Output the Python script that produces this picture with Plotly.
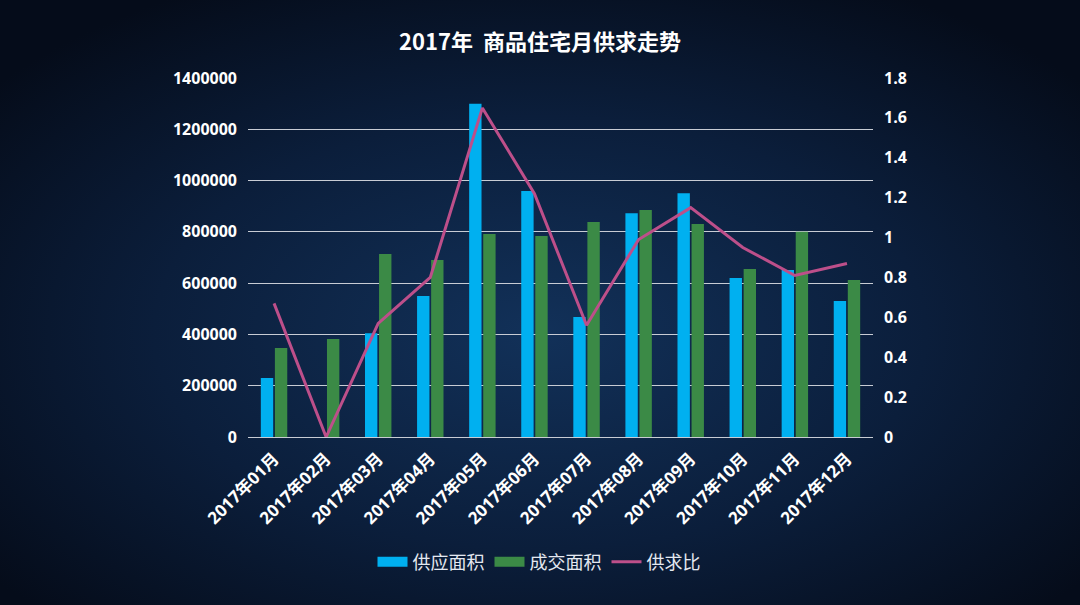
import plotly.graph_objects as go
import urllib.parse

months = ["2017年01月", "2017年02月", "2017年03月", "2017年04月", "2017年05月", "2017年06月",
          "2017年07月", "2017年08月", "2017年09月", "2017年10月", "2017年11月", "2017年12月"]
supply = [230000, 0, 405000, 550000, 1300000, 959000, 468000, 873000, 951000, 620000, 651000, 530000]
deal = [347000, 382000, 714000, 690000, 792000, 784000, 838000, 885000, 831000, 655000, 800000, 612000]
ratio = [0.67, 0.0, 0.57, 0.80, 1.65, 1.22, 0.56, 0.99, 1.15, 0.95, 0.81, 0.87]

names = ["供应面积", "成交面积", "供求比"]
colors = ["#00b0f0", "#3b8a46", "#bd4f8a"]

W, H = 1080, 605
L, R, T, B = 248, 207, 78, 168
pw, ph = W - L - R, H - T - B

svg = ('<svg xmlns="http://www.w3.org/2000/svg" width="1080" height="605">'
       '<defs><radialGradient id="g" cx="50%" cy="55%" r="65%">'
       '<stop offset="0%" stop-color="#123159"/>'
       '<stop offset="55%" stop-color="#0b1e3b"/>'
       '<stop offset="100%" stop-color="#050c1a"/>'
       '</radialGradient></defs>'
       '<rect width="1080" height="605" fill="url(#g)"/></svg>')
bg_uri = "data:image/svg+xml;charset=utf-8," + urllib.parse.quote(svg)

fig = go.Figure()
fig.add_trace(go.Bar(x=months, y=supply, name=names[0], marker=dict(color=colors[0], line_width=0),
                     showlegend=False))
fig.add_trace(go.Bar(x=months, y=deal, name=names[1], marker=dict(color=colors[1], line_width=0),
                     showlegend=False))
fig.add_trace(go.Scatter(x=months, y=ratio, name=names[2], yaxis="y2", mode="lines",
                         line=dict(color=colors[2], width=3), showlegend=False))
# legend entries (wide rectangle swatches for bars, line for ratio)
fig.add_trace(go.Scatter(x=[None], y=[None], name=names[0], mode="lines",
                         line=dict(color=colors[0], width=12)))
fig.add_trace(go.Scatter(x=[None], y=[None], name=names[1], mode="lines",
                         line=dict(color=colors[1], width=12)))
fig.add_trace(go.Scatter(x=[None], y=[None], name=names[2], mode="lines",
                         line=dict(color=colors[2], width=3)))

tickfont = dict(family="Open Sans, Noto Sans CJK SC", size=16, color="#ffffff", weight="bold")

fig.update_layout(
    width=W, height=H,
    margin=dict(l=L, r=R, t=T, b=B),
    paper_bgcolor="#0a1a33",
    plot_bgcolor="rgba(0,0,0,0)",
    barmode="group",
    bargap=0.46,
    bargroupgap=0.12,
    title=dict(text="<b>2017年  商品住宅月供求走势</b>", x=0.5, xanchor="center",
               y=1 - 42 / H, yanchor="middle", yref="container",
               font=dict(family="Noto Sans CJK SC", size=22, color="#ffffff")),
    xaxis=dict(tickangle=-45, tickfont=dict(family="Open Sans, Noto Sans CJK SC", size=17,
                                            color="#ffffff", weight="bold"),
               showline=True, linecolor="#c8ccd4", linewidth=1, showgrid=False, ticks="",
               ticklabelstandoff=4),
    yaxis=dict(range=[0, 1400000], dtick=200000, tickformat="d", tickfont=tickfont,
               showgrid=True, gridcolor="#c8ccd4", gridwidth=1, zeroline=False,
               ticks="", ticklabelstandoff=10),
    yaxis2=dict(range=[0, 1.8], dtick=0.2, overlaying="y", side="right", tickfont=tickfont,
                showgrid=False, zeroline=False, ticklabelstandoff=10),
    legend=dict(orientation="h", x=(539 - L) / pw, xanchor="center", y=-(562 - (H - B)) / ph,
                yanchor="middle",
                font=dict(family="Noto Sans CJK SC", size=18, color="#e4e8f0"),
                bgcolor="rgba(0,0,0,0)", itemwidth=30),
    images=[dict(source=bg_uri, xref="paper", yref="paper", x=-L / pw, y=1 + T / ph,
                 sizex=W / pw, sizey=H / ph, sizing="stretch", xanchor="left", yanchor="top",
                 layer="below")],
    showlegend=True,
)

fig.write_html("out.html")
